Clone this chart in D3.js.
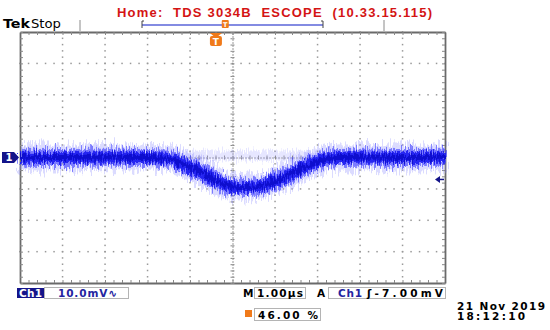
<!DOCTYPE html>
<html><head><meta charset="utf-8">
<script src="https://cdn.jsdelivr.net/npm/d3@7"></script>
<style>
html,body{margin:0;padding:0;background:#fff;}
svg{display:block;}
text{white-space:pre;}
</style></head>
<body>
<svg id="c" width="550" height="330"></svg>
<script>
// ---- data ----
const titleText = "Home:  TDS 3034B  ESCOPE  (10.33.15.115)";
const timeUs = [-5, -4, -3, -2, -1.5, -1.25, -1.0, -0.75, -0.5, -0.25, 0, 0.25, 0.5, 0.75, 1.0, 1.25, 1.5, 1.75, 2.0, 2.25, 2.5, 3, 4, 5];
const ch1mV  = [0.1, 0, 0.1, 0, -0.3, -1.7, -3.0, -4.6, -6.6, -8.3, -9.3, -9.6, -9.4, -8.8, -7.5, -6.1, -4.3, -2.7, -1.2, -0.3, 0, 0.1, 0, 0.1];
const ghostT = [-1.4, -0.5, 0.5, 1.5, 2.1];
const ghostMV = [0.5, 0.6, 0.6, 0.6, 0.5];
const voltsPerDiv = 10;   // mV
const timePerDiv = 1;     // µs
const triggerLevelMV = -7.0;
const triggerPosPct = 46;
const triggerTimeUs = -0.39;
const statusLabels = {ch: "Ch1", scale: "10.0mV\u223F", m: "M", tb: "1.00\u00B5s", a: "A", trigCh: "Ch1", trigLvl: "\u0283-7.00mV", pos: "46.00 %", date: "21 Nov 2019", time: "18:12:10"};

// ---- layout ----
const svg = d3.select("#c");
const L = 20, R = 445, T = 32, B = 283;
const x = d3.scaleLinear().domain([-5 * timePerDiv, 5 * timePerDiv]).range([L, R]);
const y = d3.scaleLinear().domain([-4 * voltsPerDiv, 4 * voltsPerDiv]).range([B, T]);
const rec = d3.scaleLinear().domain([0, 100]).range([142, 323]);

const defs = svg.append("defs");
function mkFilter(id, freq, seed, scale) {
  const f = defs.append("filter").attr("id", id).attr("filterUnits", "userSpaceOnUse")
    .attr("x", 0).attr("y", 0).attr("width", 550).attr("height", 330);
  f.append("feTurbulence").attr("type", "fractalNoise").attr("baseFrequency", freq).attr("numOctaves", 2).attr("seed", seed).attr("result", "n");
  f.append("feDisplacementMap").attr("in", "SourceGraphic").attr("in2", "n").attr("scale", scale).attr("xChannelSelector", "B").attr("yChannelSelector", "G");
}
mkFilter("fz1", "0.7 0.06", 4, 22);
mkFilter("fz2", "0.9 0.1", 9, 12);
mkFilter("fz3", "0.8 0.08", 17, 16);

// ---- graticule ----
const minorX = d3.range(-5, 5.0001, 0.2).map(v => +v.toFixed(2));
const minorY = d3.range(-40, 40.0001, 2).map(v => +v.toFixed(2));
const g = svg.append("g");

const majorX = d3.range(-4, 5, 1).filter(v => v !== 0);
const majorY = d3.range(-30, 40, 10).filter(v => v !== 0);
majorX.forEach(t => {
  minorY.forEach(v => g.append("rect").attr("x", x(t) - 0.7).attr("y", y(v) - 0.7).attr("width", 1.5).attr("height", 1.5).attr("fill", "#999"));
});
majorY.forEach(v => {
  minorX.forEach(t => g.append("rect").attr("x", x(t) - 0.7).attr("y", y(v) - 0.7).attr("width", 1.5).attr("height", 1.5).attr("fill", "#999"));
});

function styleAxis(sel) {
  sel.selectAll(".domain").attr("stroke", "#6a6a6a").attr("stroke-width", 1.8);
  sel.selectAll(".tick line").attr("stroke", "#888").attr("stroke-width", 1);
  sel.selectAll("text").remove();
}
g.append("g").attr("transform", `translate(0,${T})`).call(d3.axisBottom(x).tickValues(minorX).tickSize(3).tickSizeOuter(0).tickFormat("")).call(styleAxis);
g.append("g").attr("transform", `translate(0,${B})`).call(d3.axisTop(x).tickValues(minorX).tickSize(3).tickSizeOuter(0).tickFormat("")).call(styleAxis);
g.append("g").attr("transform", `translate(${L},0)`).call(d3.axisRight(y).tickValues(minorY).tickSize(3).tickSizeOuter(0).tickFormat("")).call(styleAxis);
g.append("g").attr("transform", `translate(${R},0)`).call(d3.axisLeft(y).tickValues(minorY).tickSize(3).tickSizeOuter(0).tickFormat("")).call(styleAxis);

function styleCenter(sel) {
  sel.selectAll(".domain").attr("stroke", "#8a8a8a").attr("stroke-width", 1).attr("stroke-dasharray", "1,2");
  sel.selectAll(".tick line").attr("stroke", "#888").attr("stroke-width", 1);
  sel.selectAll("text").remove();
}
const cy = y(0), cx = x(0);
g.append("g").attr("transform", `translate(0,${cy})`).call(d3.axisBottom(x).tickValues(minorX).tickSize(2).tickSizeOuter(0).tickFormat("")).call(styleCenter);
g.append("g").attr("transform", `translate(0,${cy})`).call(d3.axisTop(x).tickValues(minorX).tickSize(2).tickSizeOuter(0).tickFormat("")).call(styleCenter);
g.append("g").attr("transform", `translate(${cx},0)`).call(d3.axisRight(y).tickValues(minorY).tickSize(2).tickSizeOuter(0).tickFormat("")).call(styleCenter);
g.append("g").attr("transform", `translate(${cx},0)`).call(d3.axisLeft(y).tickValues(minorY).tickSize(2).tickSizeOuter(0).tickFormat("")).call(styleCenter);

// ---- waveform ----
const pts = timeUs.map((t, i) => [t, ch1mV[i]]);
const line = d3.line().x(d => x(d[0])).y(d => y(d[1])).curve(d3.curveMonotoneX);
const wg = svg.append("g");
const gpts = ghostT.map((t, i) => [t, ghostMV[i]]);
wg.append("path").attr("d", line(gpts)).attr("fill", "none").attr("stroke", "#a8a8ff").attr("stroke-width", 10).attr("opacity", 0.28).attr("filter", "url(#fz3)");
wg.append("path").attr("d", line(pts)).attr("fill", "none").attr("stroke", "#8a8aff").attr("stroke-width", 26).attr("opacity", 0.3).attr("filter", "url(#fz1)");
wg.append("path").attr("d", line(pts)).attr("fill", "none").attr("stroke", "#3c3cff").attr("stroke-width", 17).attr("opacity", 0.6).attr("filter", "url(#fz3)");
wg.append("path").attr("d", line(pts)).attr("fill", "none").attr("stroke", "#1a1af0").attr("stroke-width", 11).attr("opacity", 0.9).attr("filter", "url(#fz2)");
wg.append("path").attr("d", line(pts)).attr("fill", "none").attr("stroke", "#0000b8").attr("stroke-width", 5).attr("opacity", 0.6).attr("filter", "url(#fz2)");

// ---- markers ----
const my = y(0);
svg.append("path").attr("d", `M2,${my - 5.5} H14 L19,${my} L14,${my + 5.5} H2 Z`).attr("fill", "#14148a");
svg.append("text").attr("x", 9).attr("y", my + 3.8).attr("text-anchor", "middle").attr("fill", "#fff")
  .attr("font-family", "DejaVu Sans").attr("font-weight", "bold").attr("font-size", 10).text("1");
const ty = y(triggerLevelMV);
svg.append("path").attr("d", `M435,${ty} L440,${ty - 3.5} L440,${ty + 3.5} Z`).attr("fill", "#14148a");
svg.append("line").attr("x1", 439).attr("x2", 444).attr("y1", ty).attr("y2", ty).attr("stroke", "#14148a").attr("stroke-width", 1.5);
const tx = x(triggerTimeUs);
svg.append("path").attr("d", `M${tx - 6},${T + 1} H${tx + 6} L${tx},${T + 6} Z`).attr("fill", "#f07a1a");
svg.append("rect").attr("x", tx - 6).attr("y", T + 4).attr("width", 12).attr("height", 10).attr("rx", 2).attr("fill", "#f07a1a");
svg.append("text").attr("x", tx).attr("y", T + 12.5).attr("text-anchor", "middle").attr("fill", "#fff")
  .attr("font-family", "DejaVu Sans").attr("font-weight", "bold").attr("font-size", 9).text("T");

// ---- header ----
svg.append("text").attr("x", 117).attr("y", 16.5).attr("fill", "#d41414")
  .attr("font-family", "Liberation Sans").attr("font-weight", "bold").attr("font-size", 13)
  .attr("textLength", 315).attr("lengthAdjust", "spacing").text(titleText);
svg.append("text").attr("x", 3).attr("y", 27.5).attr("fill", "#000")
  .attr("font-family", "DejaVu Sans").attr("font-weight", "bold").attr("font-size", 11.5)
  .attr("textLength", 27).attr("lengthAdjust", "spacingAndGlyphs").text("Tek");
svg.append("text").attr("x", 31).attr("y", 27.5).attr("fill", "#000")
  .attr("font-family", "DejaVu Sans").attr("font-size", 11.5)
  .attr("textLength", 30).attr("lengthAdjust", "spacingAndGlyphs").text("Stop");
[80, 384].forEach(px => svg.append("line").attr("x1", px).attr("x2", px).attr("y1", 20).attr("y2", 31).attr("stroke", "#8a8a8a").attr("stroke-width", 1));
svg.append("line").attr("x1", rec(0)).attr("x2", rec(100)).attr("y1", 25).attr("y2", 25).attr("stroke", "#5a64d8").attr("stroke-width", 1.3);
svg.append("path").attr("d", `M${rec(0) + 2},21 H${rec(0)} V28`).attr("fill", "none").attr("stroke", "#444").attr("stroke-width", 1);
svg.append("path").attr("d", `M${rec(100) - 2},21 H${rec(100)} V28`).attr("fill", "none").attr("stroke", "#444").attr("stroke-width", 1);
const rx = rec(triggerPosPct);
svg.append("rect").attr("x", rx - 3.5).attr("y", 20).attr("width", 7).attr("height", 8).attr("rx", 1).attr("fill", "#f07a1a");
svg.append("text").attr("x", rx).attr("y", 26.5).attr("text-anchor", "middle").attr("fill", "#fff")
  .attr("font-family", "DejaVu Sans").attr("font-weight", "bold").attr("font-size", 6.5).text("T");

// ---- status bar ----
function txt(xp, yp, s, col, len, size) {
  const t = svg.append("text").attr("x", xp).attr("y", yp).attr("fill", col)
    .attr("font-family", "DejaVu Sans").attr("font-weight", "bold").attr("font-size", size || 10.5).text(s);
  if (len) t.attr("textLength", len).attr("lengthAdjust", "spacing");
  return t;
}
function box(x0, y0, w, h) {
  svg.append("rect").attr("x", x0 + 0.5).attr("y", y0 + 0.5).attr("width", w).attr("height", h).attr("fill", "#fff").attr("stroke", "#b4b4b4").attr("stroke-width", 1);
}
svg.append("rect").attr("x", 17).attr("y", 288).attr("width", 27).attr("height", 10).attr("fill", "#14148a");
txt(19, 297, statusLabels.ch, "#fff", 23);
box(44, 287, 84, 11);
txt(58, 297, statusLabels.scale, "#2424a0", 59);
txt(243, 297, statusLabels.m, "#000", 10);
box(254, 287, 51, 11);
txt(257, 297, statusLabels.tb, "#000", 46);
txt(317, 297, statusLabels.a, "#000", 9);
box(328, 287, 117, 11);
txt(338, 297, statusLabels.trigCh, "#2424a0", 24);
txt(367, 297, statusLabels.trigLvl, "#000", 76);
svg.append("rect").attr("x", 245).attr("y", 310).attr("width", 7).attr("height", 7).attr("fill", "#f07a1a");
box(254, 308, 66, 12);
txt(258, 318.5, statusLabels.pos, "#000", 60);
txt(457, 309.5, statusLabels.date, "#000", 88, 10.5);
txt(457, 320, statusLabels.time, "#000", 68, 10.5);
</script>
</body></html>
